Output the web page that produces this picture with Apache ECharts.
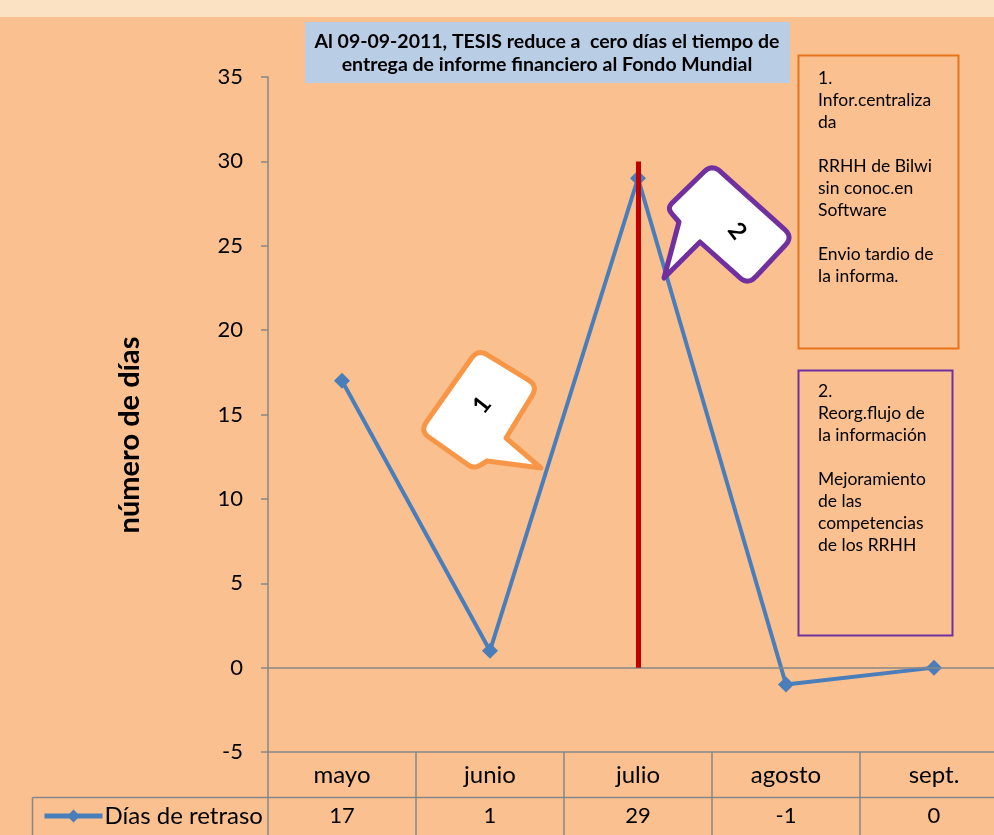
<!DOCTYPE html>
<html>
<head>
<meta charset="utf-8">
<script src="https://cdn.jsdelivr.net/npm/echarts@6/dist/echarts.min.js"></script>
<style>
html,body{margin:0;padding:0;overflow:hidden;background:#FAC090;}
#band{position:absolute;left:0;top:0;width:994px;height:17px;background:#FBE2C2;}
#chart{position:absolute;left:0;top:0;width:1010px;height:835px;}
</style>
</head>
<body>
<div id="band"></div>
<div id="chart"></div>
<script>
// ---- data ----
const categories = ['mayo', 'junio', 'julio', 'agosto', 'sept.'];
const delayDays = [17, 1, 29, -1, 0];
const seriesName = 'Días de retraso';
const yMin = -5, yMax = 35, yStep = 5;
const milestoneCategory = 'julio';
const milestoneRange = [0, 30];
const yAxisTitle = 'número de días';
const titleLines = ['Al 09-09-2011, TESIS reduce a  cero días el tiempo de',
                    'entrega de informe financiero al Fondo Mundial'];
const note1Lines = ['1.', 'Infor.centraliza', 'da', '', 'RRHH de Bilwi', 'sin conoc.en', 'Software', '', 'Envio tardio de', 'la informa.'];
const note2Lines = ['2.', 'Reorg.flujo de', 'la información', '', 'Mejoramiento', 'de las', 'competencias', 'de los RRHH'];
const callout1Label = '1';
const callout2Label = '2';

// ---- helpers for decorative shapes ----
function roundPoly(pts, radii) {
  const out = [];
  const n = pts.length;
  for (let i = 0; i < n; i++) {
    const P = pts[i], r = radii[i];
    if (!r) { out.push(P); continue; }
    const Pr = pts[(i - 1 + n) % n], Nx = pts[(i + 1) % n];
    const d1 = Math.hypot(Pr[0] - P[0], Pr[1] - P[1]);
    const d2 = Math.hypot(Nx[0] - P[0], Nx[1] - P[1]);
    const a = [P[0] + (Pr[0] - P[0]) * r / d1, P[1] + (Pr[1] - P[1]) * r / d1];
    const b = [P[0] + (Nx[0] - P[0]) * r / d2, P[1] + (Nx[1] - P[1]) * r / d2];
    for (let k = 0; k <= 6; k++) {
      const t = k / 6;
      out.push([
        (1 - t) * (1 - t) * a[0] + 2 * (1 - t) * t * P[0] + t * t * b[0],
        (1 - t) * (1 - t) * a[1] + 2 * (1 - t) * t * P[1] + t * t * b[1]
      ]);
    }
  }
  return out;
}

const callout1 = roundPoly(
  [[478, 349], [538, 386], [506, 438], [541, 468], [487, 461], [474, 469], [420, 431]],
  [11, 11, 0, 0, 0, 7, 11]);
const callout2 = roundPoly(
  [[712, 164], [793, 237], [748, 285], [700, 242], [664, 278], [679, 222], [667, 208]],
  [11, 11, 11, 0, 0, 0, 7]);

const chart = echarts.init(document.getElementById('chart'));
const baseFont = 'Lato';
const gray = '#878787';

const option = {
  animation: false,
  backgroundColor: 'transparent',
  grid: { left: 268, right: 2, top: 77, bottom: 83 },
  legend: {
    data: [seriesName],
    left: 37, top: 799,
    itemWidth: 58, itemHeight: 16, itemGap: 4,
    lineStyle: { width: 5 },
    textStyle: { fontFamily: baseFont, fontSize: 24, color: '#000', padding: [0, 0, 0, -3] }
  },
  xAxis: [{
    type: 'category',
    data: categories,
    boundaryGap: true,
    position: 'bottom',
    axisLine: { show: true, onZero: false, lineStyle: { color: gray, width: 1.5 } },
    axisTick: { show: true, length: 83, lineStyle: { color: gray, width: 1.5 } },
    axisLabel: { fontFamily: baseFont, fontSize: 24, color: '#000', margin: 11 }
  }, {
    type: 'category',
    data: categories,
    boundaryGap: true,
    position: 'bottom',
    offset: 41,
    axisLine: { show: false },
    axisTick: { show: false },
    axisLabel: {
      fontFamily: baseFont, fontSize: 22, color: '#000', margin: 12,
      formatter: (v, i) => String(delayDays[i])
    }
  }],
  yAxis: {
    type: 'value',
    min: yMin, max: yMax, interval: yStep,
    axisLine: { show: true, lineStyle: { color: gray, width: 1.5 } },
    axisTick: { show: true, length: 7, lineStyle: { color: gray, width: 1.5 } },
    splitLine: { show: false },
    axisLabel: { fontFamily: baseFont, fontSize: 22, color: '#000', margin: 25 }
  },
  series: [{
    name: seriesName,
    type: 'line',
    data: delayDays,
    symbol: 'diamond',
    symbolSize: 16,
    lineStyle: { color: '#4A7EBB', width: 4 },
    itemStyle: { color: '#4A7EBB' },
    z: 3,
    markLine: {
      silent: true,
      symbol: 'none',
      label: { show: false },
      lineStyle: { color: gray, width: 1.5, type: 'solid' },
      data: [{ yAxis: 0 }]
    }
  }, {
    name: 'hito',
    type: 'line',
    data: [],
    z: 5,
    markLine: {
      silent: true,
      symbol: 'none',
      label: { show: false },
      lineStyle: { color: '#C00000', width: 5, type: 'solid' },
      data: [[
        { coord: [categories.indexOf(milestoneCategory), milestoneRange[0]] },
        { coord: [categories.indexOf(milestoneCategory), milestoneRange[1]] }
      ]]
    }
  }],
  graphic: [
    // data-table left cell borders
    { type: 'line', shape: { x1: 32.5, y1: 797.5, x2: 1010, y2: 797.5 }, style: { stroke: gray, lineWidth: 1.5 }, silent: true },
    { type: 'line', shape: { x1: 32.5, y1: 797.5, x2: 32.5, y2: 835 }, style: { stroke: gray, lineWidth: 1.5 }, silent: true },
    // title box
    { type: 'rect', shape: { x: 305, y: 22, width: 485, height: 61 }, style: { fill: '#B9CDE5' }, z: 10 },
    { type: 'text', x: 547, y: 53, z: 11,
      style: { text: titleLines.join('\n'), align: 'center', verticalAlign: 'middle',
               font: 'bold 19.5px Lato', fill: '#000', lineHeight: 23 } },
    // note boxes
    { type: 'rect', shape: { x: 798.5, y: 55.5, width: 160, height: 293 },
      style: { fill: 'transparent', stroke: '#E8731A', lineWidth: 2 }, z: 10 },
    { type: 'text', x: 818, y: 67, z: 11,
      style: { text: note1Lines.join('\n'), font: '17.5px Lato', fill: '#000', lineHeight: 22, verticalAlign: 'top' } },
    { type: 'rect', shape: { x: 798.5, y: 370.5, width: 154, height: 265 },
      style: { fill: 'transparent', stroke: '#7030A0', lineWidth: 2 }, z: 10 },
    { type: 'text', x: 818, y: 380, z: 11,
      style: { text: note2Lines.join('\n'), font: '17.5px Lato', fill: '#000', lineHeight: 22, verticalAlign: 'top' } },
    // callouts
    { type: 'polygon', shape: { points: callout1 }, z: 20,
      style: { fill: '#FFFFFF', stroke: '#F79646', lineWidth: 5, lineJoin: 'round' } },
    { type: 'text', x: 482, y: 405, rotation: 0.9, z: 21,
      style: { text: callout1Label, align: 'center', verticalAlign: 'middle', font: 'bold 24px Lato', fill: '#000' } },
    { type: 'polygon', shape: { points: callout2 }, z: 20,
      style: { fill: '#FFFFFF', stroke: '#7030A0', lineWidth: 5, lineJoin: 'round' } },
    { type: 'text', x: 737, y: 231, rotation: -0.92, z: 21,
      style: { text: callout2Label, align: 'center', verticalAlign: 'middle', font: 'bold 24px Lato', fill: '#000' } },
    // y axis title
    { type: 'text', x: 130, y: 435, rotation: Math.PI / 2, z: 11,
      style: { text: yAxisTitle, align: 'center', verticalAlign: 'middle', font: 'bold 29px Lato', fill: '#000' } }
  ]
};
chart.setOption(option);
</script>
</body>
</html>
